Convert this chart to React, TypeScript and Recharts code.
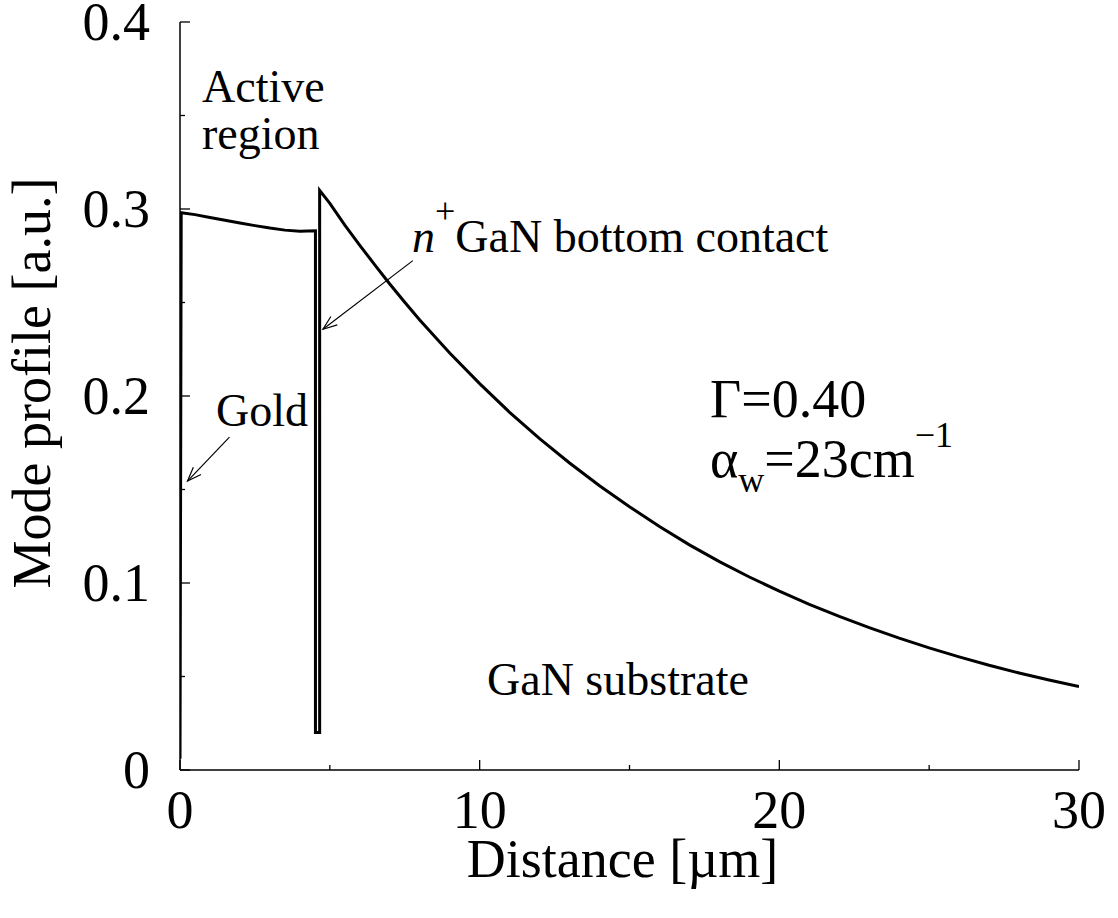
import React from 'react';
import { LineChart, Line, XAxis, YAxis, ReferenceLine, Label } from 'recharts';

// Mode profile (distance in µm, profile in a.u.)
const distance = [
  0, 0.04, 0.5, 1, 1.5, 2, 2.5, 3, 3.5, 4, 4.52,
  4.52, 4.66, 4.66, 5, 5.5, 6, 6.5, 7, 7.5, 8, 9, 10, 11, 12, 13, 14, 15,
  16, 17, 18, 19, 20, 21, 22, 23, 24, 25, 26, 27, 28, 29, 30,
];
const profile = [
  0.006, 0.298, 0.297, 0.2955, 0.294, 0.2925, 0.2911, 0.2898, 0.2887, 0.2881, 0.2884,
  0.02, 0.02, 0.31, 0.303, 0.2914, 0.2806, 0.2701, 0.2599, 0.2501, 0.2407, 0.223, 0.2066, 0.1913, 0.1772, 0.1642, 0.152, 0.1408,
  0.1302, 0.1204, 0.1114, 0.1032, 0.0956, 0.0886, 0.0821, 0.0761, 0.0705, 0.0653, 0.0605, 0.056, 0.0519, 0.0481, 0.0446,
];

const xTicks = [0, 5, 10, 15, 20, 25, 30];
const xMajorTicks = [0, 10, 20, 30];
const yTicks = [0, 0.05, 0.1, 0.15, 0.2, 0.25, 0.3, 0.35, 0.4];
const yMajorTicks = [0, 0.1, 0.2, 0.3, 0.4];
const yTickLabels = ['0', '0.1', '0.2', '0.3', '0.4'];

// annotation arrows in data coordinates: [fromX, fromY, toX, toY]
const goldArrow = [1.65, 0.178, 0.25, 0.1545];
const contactArrow = [7.77, 0.2724, 4.77, 0.2357];

const data = distance.map((d, i) => ({ distance: d, profile: profile[i] }));

const FONT = 'Liberation Serif, Tinos, Times New Roman, Times, DejaVu Serif, Noto Serif, serif';
const TXT = { fontFamily: FONT };
const MAJOR = 10;
const MINOR = 5;

const isMajorX = (v: number) => xMajorTicks.some((t) => Math.abs(t - v) < 1e-9);
const majorYIndex = (v: number) => yMajorTicks.findIndex((t) => Math.abs(t - v) < 1e-9);

const BottomTick = (props: any) => {
  const { x, y, payload } = props;
  const major = isMajorX(payload.value);
  return (
    <g>
      <line x1={x} y1={y} x2={x} y2={y - (major ? MAJOR : MINOR)} stroke="#000" strokeWidth={1.3} />
      {major && (
        <text x={x} y={y + 58} textAnchor="middle" style={TXT} fontSize={54} fill="#000">
          {String(payload.value)}
        </text>
      )}
    </g>
  );
};

const TopTick = (props: any) => {
  const { x, y, payload } = props;
  const major = isMajorX(payload.value);
  return <line x1={x} y1={y} x2={x} y2={y + (major ? MAJOR : MINOR)} stroke="#000" strokeWidth={1.3} />;
};

const LeftTick = (props: any) => {
  const { x, y, payload } = props;
  const idx = majorYIndex(payload.value);
  const major = idx >= 0;
  return (
    <g>
      <line x1={x} y1={y} x2={x + (major ? MAJOR : MINOR)} y2={y} stroke="#000" strokeWidth={1.3} />
      {major && (
        <text x={x - 30} y={y + 18} textAnchor="end" style={TXT} fontSize={54} fill="#000">
          {yTickLabels[idx]}
        </text>
      )}
    </g>
  );
};

const RightTick = (props: any) => {
  const { x, y, payload } = props;
  const major = majorYIndex(payload.value) >= 0;
  return <line x1={x} y1={y} x2={x - (major ? MAJOR : MINOR)} y2={y} stroke="#000" strokeWidth={1.3} />;
};

const ArrowShape = (props: any) => {
  const { x1, y1, x2, y2 } = props;
  if ([x1, y1, x2, y2].some((v) => typeof v !== 'number' || isNaN(v))) return <g />;
  const ang = Math.atan2(y2 - y1, x2 - x1);
  const len = 15;
  const spread = 0.36;
  const ax = x2 - len * Math.cos(ang - spread);
  const ay = y2 - len * Math.sin(ang - spread);
  const bx = x2 - len * Math.cos(ang + spread);
  const by = y2 - len * Math.sin(ang + spread);
  return (
    <g>
      <line x1={x1} y1={y1} x2={x2} y2={y2} stroke="#000" strokeWidth={1.2} />
      <polyline points={`${ax},${ay} ${x2},${y2} ${bx},${by}`} fill="none" stroke="#000" strokeWidth={1.2} />
    </g>
  );
};

const XTitle = (props: any) => {
  const vb = props.viewBox || { x: 180, y: 770, width: 899, height: 148 };
  return (
    <text x={vb.x + vb.width / 2 - 7} y={vb.y + 107} textAnchor="middle" style={TXT} fontSize={54} fill="#000">
      Distance [µm]
    </text>
  );
};

const YTitle = (props: any) => {
  const vb = props.viewBox || { x: 0, y: 22, width: 180, height: 748 };
  const cx = vb.x + 50;
  const cy = vb.y + vb.height / 2 - 13;
  return (
    <text
      x={cx}
      y={cy}
      transform={`rotate(-90 ${cx} ${cy})`}
      textAnchor="middle"
      style={TXT}
      fontSize={54}
      fill="#000"
    >
      Mode profile [a.u.]
    </text>
  );
};

export default function App() {
  return (
    <div
      style={{ position: 'absolute', left: 0, top: 0, width: 1118, height: 918, background: '#fff', fontFamily: FONT }}
    >
      <LineChart
        width={1118}
        height={918}
        data={data}
        margin={{ top: 22, right: 39, bottom: 0, left: 0 }}
        style={{ fontFamily: FONT }}
      >
        <XAxis
          dataKey="distance"
          type="number"
          domain={[0, 30]}
          allowDataOverflow
          ticks={xTicks}
          interval={0}
          tickSize={0}
          tickMargin={0}
          tickLine={false}
          tick={BottomTick}
          height={148}
          axisLine={{ stroke: '#000', strokeWidth: 1.5 }}
        >
          <Label content={XTitle} />
        </XAxis>
        <XAxis
          xAxisId="top"
          orientation="top"
          type="number"
          domain={[0, 30]}
          allowDataOverflow
          ticks={xTicks}
          interval={0}
          tickSize={0}
          tickMargin={0}
          tickLine={false}
          tick={TopTick}
          height={0}
          axisLine={{ stroke: '#000', strokeWidth: 1.5 }}
        />
        <YAxis
          type="number"
          domain={[0, 0.4]}
          allowDataOverflow
          ticks={yTicks}
          interval={0}
          tickSize={0}
          tickMargin={0}
          tickLine={false}
          tick={LeftTick}
          width={180}
          axisLine={{ stroke: '#000', strokeWidth: 1.5 }}
        >
          <Label content={YTitle} />
        </YAxis>
        <YAxis
          yAxisId="right"
          orientation="right"
          type="number"
          domain={[0, 0.4]}
          allowDataOverflow
          ticks={yTicks}
          interval={0}
          tickSize={0}
          tickMargin={0}
          tickLine={false}
          tick={RightTick}
          width={0}
          axisLine={{ stroke: '#000', strokeWidth: 1.5 }}
        />
        <Line
          type="linear"
          dataKey="profile"
          stroke="#000"
          strokeWidth={3}
          dot={false}
          activeDot={false}
          isAnimationActive={false}
        />
        <ReferenceLine
          segment={[
            { x: goldArrow[0], y: goldArrow[1] },
            { x: goldArrow[2], y: goldArrow[3] },
          ]}
          shape={ArrowShape}
        />
        <ReferenceLine
          segment={[
            { x: contactArrow[0], y: contactArrow[1] },
            { x: contactArrow[2], y: contactArrow[3] },
          ]}
          shape={ArrowShape}
        />
      </LineChart>
      <svg
        width={1118}
        height={918}
        style={{ position: 'absolute', left: 0, top: 0, pointerEvents: 'none', fontFamily: FONT }}
        fill="#000"
      >
        <text x={202} y={102} fontSize={46} style={TXT}>Active</text>
        <text x={202} y={149} fontSize={46} style={TXT}>region</text>
        <text x={216} y={426} fontSize={46} style={TXT}>Gold</text>
        <text x={412} y={252} fontSize={46} style={TXT}>
          <tspan fontStyle="italic">n</tspan>
          <tspan fontSize={36} dy={-29}>+</tspan>
          <tspan dy={29}>GaN bottom contact</tspan>
        </text>
        <text x={487} y={695} fontSize={46} style={TXT}>GaN substrate</text>
        <text x={710} y={417} fontSize={54} style={TXT}>Γ=0.40</text>
        <text x={710} y={477} fontSize={54} style={TXT}>
          <tspan>α</tspan>
          <tspan fontSize={36} dy={15}>w</tspan>
          <tspan dy={-15}>=23cm</tspan>
          <tspan fontSize={36} dy={-30}>−1</tspan>
        </text>
      </svg>
    </div>
  );
}
